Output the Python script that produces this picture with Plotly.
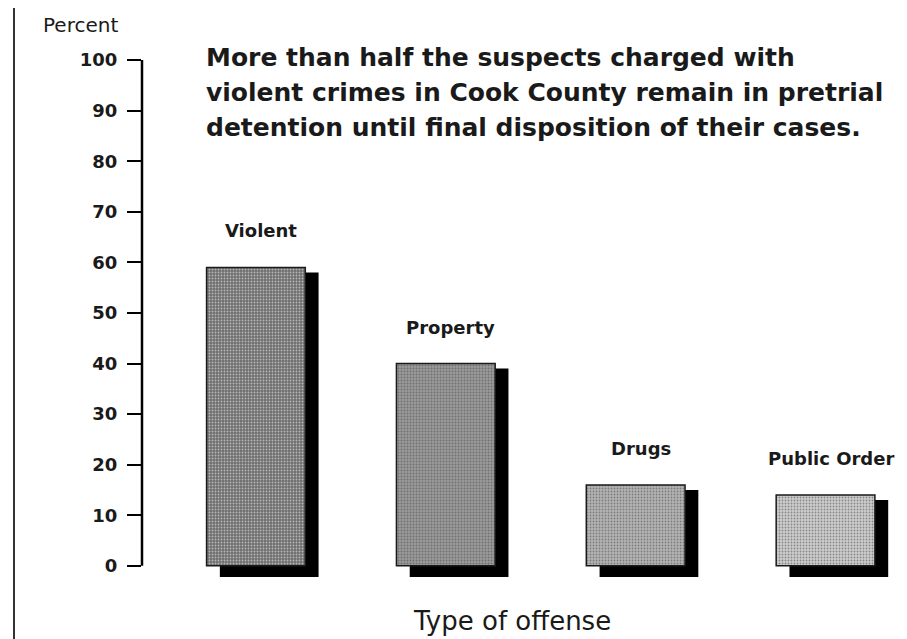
"""Pretrial detention by type of offense, Cook County - bar chart with drop shadows."""

import plotly.graph_objects as go

# data
categories = ["Violent", "Property", "Drugs", "Public Order"]
percent_detained = [59, 40, 16, 14]
y_ticks = [0, 10, 20, 30, 40, 50, 60, 70, 80, 90, 100]

bar_grays = ["#6e6e6e", "#9a9a9a", "#b4b4b4", "#cdcdcd"]
headline_lines = [
    "More than half the suspects charged with",
    "violent crimes in Cook County remain in pretrial",
    "detention until final disposition of their cases.",
]

# the page body adds an 8px margin, so the figure is drawn 8px in from the corner
PAGE_PAD = 8
W, H = 907 - PAGE_PAD, 639 - PAGE_PAD
M = {"l": 134, "r": 15, "t": 47, "b": 58}
BAR_W = 0.52
SHADOW_DX = 0.07      # category units
SHADOW_BASE = -2.2    # shadow pokes out below the baseline
SHADOW_DROP = 1.0     # shadow top sits a bit lower than the bar top
FONT = "DejaVu Sans"
INK = "#1a1a1a"

fig = go.Figure()

# drop shadows first so the bars sit on top
fig.add_trace(
    go.Bar(
        x=categories,
        y=[v - SHADOW_DROP - SHADOW_BASE for v in percent_detained],
        base=SHADOW_BASE,
        width=BAR_W,
        offset=-BAR_W / 2 + SHADOW_DX,
        marker={"color": "#000000", "line": {"width": 0}},
        hoverinfo="skip",
        showlegend=False,
    )
)

fig.add_trace(
    go.Bar(
        x=categories,
        y=percent_detained,
        width=BAR_W,
        offset=-BAR_W / 2,
        marker={
            "color": bar_grays,
            "line": {"color": INK, "width": 1.5},
            "pattern": {
                "shape": ".",
                "fgcolor": "#ffffff",
                "size": 3,
                "solidity": 0.3,
                "fillmode": "overlay",
            },
        },
        hovertemplate="%{x}: %{y}%<extra></extra>",
        showlegend=False,
    )
)

# category labels floating above each bar
for cat, val in zip(categories, percent_detained):
    fig.add_annotation(
        x=cat, y=val, xshift=5, yshift=24, yanchor="bottom",
        text=cat, showarrow=False,
        font={"family": FONT, "size": 18, "color": INK, "weight": "bold"},
    )

plot_w = W - M["l"] - M["r"]
plot_h = H - M["t"] - M["b"]


def px_x(px):
    """Window pixel x -> paper coordinate."""
    return (px - PAGE_PAD - M["l"]) / plot_w


def px_y(px):
    """Window pixel y -> paper coordinate."""
    return 1 - (px - PAGE_PAD - M["t"]) / plot_h


# headline, one annotation per line to get the looser leading
for i, line in enumerate(headline_lines):
    fig.add_annotation(
        xref="paper", yref="paper",
        x=px_x(204), y=px_y(57 + 35 * i),
        xanchor="left", yanchor="middle", align="left",
        text=line, showarrow=False,
        font={"family": FONT, "size": 25, "color": INK, "weight": "bold"},
    )

# "Percent" label above the axis
fig.add_annotation(
    xref="paper", yref="paper",
    x=px_x(120), y=px_y(25),
    xanchor="right", yanchor="middle",
    text="Percent", showarrow=False,
    font={"family": FONT, "size": 20, "color": INK},
)

# x axis title, placed as text under the bars
fig.add_annotation(
    xref="paper", yref="paper",
    x=px_x(512), y=px_y(621),
    xanchor="center", yanchor="middle",
    text="Type of offense", showarrow=False,
    font={"family": FONT, "size": 26, "color": INK},
)

# y axis spine only from 0 to 100
fig.add_shape(
    type="line", xref="paper", yref="y",
    x0=0, x1=0, y0=0, y1=100,
    line={"color": "#000000", "width": 2.5},
)
# the page's left border rule
fig.add_shape(
    type="line", xref="paper", yref="paper",
    x0=px_x(14), x1=px_x(14), y0=px_y(639), y1=px_y(0),
    line={"color": "#333333", "width": 2},
)

fig.update_layout(
    width=W,
    height=H,
    margin=M,
    barmode="overlay",
    plot_bgcolor="#ffffff",
    paper_bgcolor="#ffffff",
    font={"family": FONT, "color": INK},
    showlegend=False,
)
fig.update_xaxes(
    range=[-0.6, 3.35],
    showline=False,
    showgrid=False,
    zeroline=False,
    showticklabels=False,
    ticks="",
    automargin=False,
)
fig.update_yaxes(
    range=[-3, 101],
    tickvals=y_ticks,
    ticks="outside",
    ticklen=14,
    tickwidth=2,
    tickcolor="#000000",
    ticklabelstandoff=6,
    tickfont={"family": FONT, "size": 18, "color": INK, "weight": "bold"},
    showline=False,
    showgrid=False,
    zeroline=False,
    automargin=False,
)

fig.write_html("out.html")
